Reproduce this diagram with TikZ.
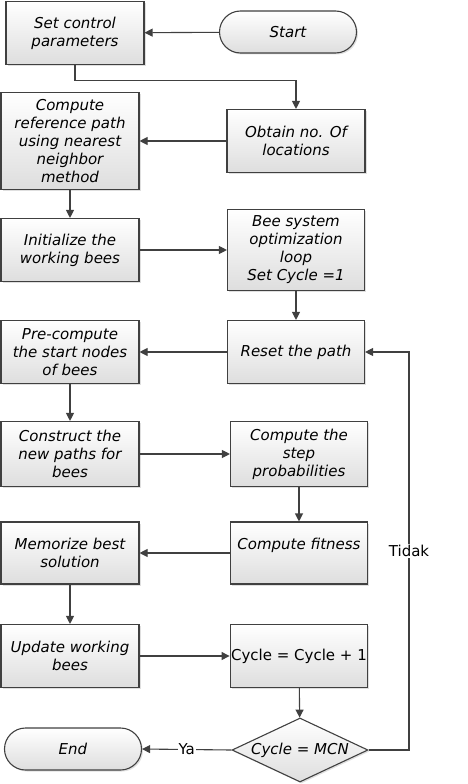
\documentclass[tikz,border=0pt]{standalone}
\usepackage{fontspec}
\setmainfont{DejaVu Sans}
\usetikzlibrary{shapes.geometric,arrows.meta,shadows}

\begin{document}
\begin{tikzpicture}[x=1pt,y=1pt,
  box/.style={draw=black!75,line width=1.1pt,top color=white,bottom color=black!13,
    drop shadow={opacity=.25,shadow xshift=1.5pt,shadow yshift=-1.5pt},
    minimum width=138pt,minimum height=63pt,inner sep=1pt,align=center,
    font=\fontsize{15}{18}\selectfont\itshape},
  term/.style={box,rounded corners=21pt,minimum width=137pt,minimum height=42pt},
  decide/.style={box,diamond,minimum width=136pt,minimum height=64pt,aspect=2.125},
  arr/.style={draw=black!75,line width=1.1pt,-{Triangle[length=8pt,width=8pt]}},
  lbl/.style={fill=white,inner sep=1pt,font=\fontsize{15}{16}\selectfont}]
  \useasboundingbox (0,0) rectangle (468,-784);

  \node[term] (start) at (288,-32) {Start};
  \node[box] (set) at (75,-33) {Set control\\parameters};

  \node[box] (obtain) at (296,-141) {Obtain no. Of\\locations};
  \node[box,minimum height=97pt] (ref) at (70,-141) {Compute\\reference path\\using nearest\\neighbor\\method};

  \node[box] (init) at (70,-250) {Initialize the\\working bees};
  \node[box,minimum width=137pt,minimum height=81pt] (bee) at (296,-250) {Bee system\\optimization\\loop\\Set Cycle =1};

  \node[box,minimum width=137pt] (reset) at (296,-352) {Reset the path};
  \node[box] (pre) at (70,-352) {Pre-compute\\the start nodes\\of bees};

  \node[box,minimum height=65pt] (cons) at (70,-454) {Construct the\\new paths for\\bees};
  \node[box,minimum width=137pt,minimum height=65pt] (stepprob) at (299,-454) {Compute the\\step\\probabilities};

  \node[box,minimum width=137pt,minimum height=62pt] (fit) at (299,-553) {Compute fitness\\~};
  \node[box,minimum height=62pt] (memo) at (70,-553) {Memorize best\\solution};

  \node[box] (upd) at (70,-656) {Update working\\bees};
  \node[box,minimum width=137pt] (cyc) at (299,-656) {\upshape Cycle = Cycle + 1};

  \node[decide] (mcn) at (300,-750) {Cycle = MCN};
  \node[term] (end) at (73,-749) {End};
  \coordinate (loop) at (409,-750);

  \foreach \from/\to in {start/set, obtain/ref, ref/init, init/bee, bee/reset,
                         reset/pre, pre/cons, cons/stepprob, stepprob/fit,
                         fit/memo, memo/upd, upd/cyc, cyc/mcn}
    \draw[arr] (\from) -- (\to);
  \draw[arr] (set.south) -- ++(0,-15.5) -| (obtain.north);
  \draw[arr] (mcn.west) -- node[lbl] {Ya} (end.east);
  \draw[arr] (mcn.east) -- (loop) |- node[lbl,pos=.25] {Tidak} (reset.east);
\end{tikzpicture}
\end{document}
